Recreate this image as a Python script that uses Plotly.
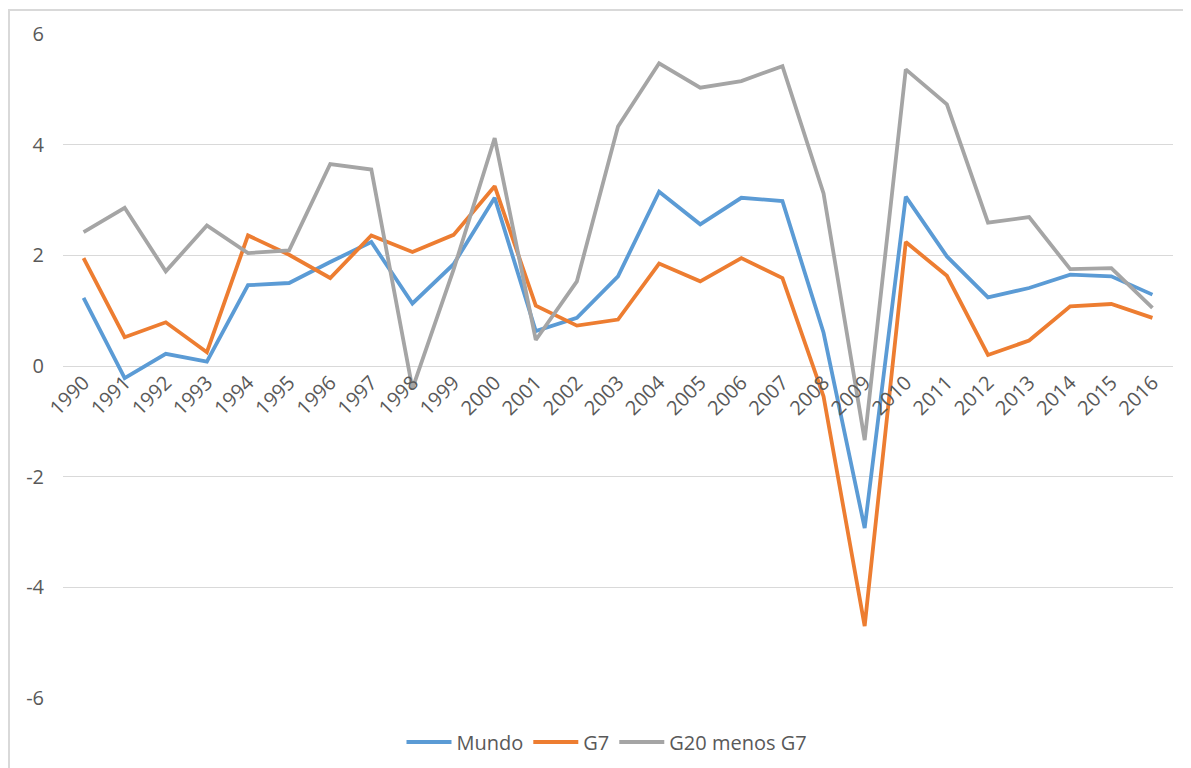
import plotly.graph_objects as go

years = [str(y) for y in range(1990, 2017)]
mundo = [1.23, -0.22, 0.22, 0.08, 1.46, 1.50, 1.88, 2.24, 1.13, 1.84, 3.04, 0.63, 0.87, 1.62,
         3.15, 2.56, 3.04, 2.98, 0.60, -2.93, 3.06, 1.98, 1.24, 1.41, 1.65, 1.62, 1.29]
g7 = [1.95, 0.52, 0.79, 0.25, 2.36, 2.01, 1.59, 2.36, 2.06, 2.37, 3.25, 1.09, 0.73, 0.84,
      1.85, 1.53, 1.95, 1.59, -0.55, -4.70, 2.24, 1.63, 0.20, 0.46, 1.08, 1.12, 0.87]
g20_menos_g7 = [2.42, 2.86, 1.71, 2.54, 2.04, 2.09, 3.65, 3.55, -0.41, 1.74, 4.12, 0.47, 1.53, 4.33,
                5.47, 5.03, 5.15, 5.42, 3.12, -1.34, 5.36, 4.73, 2.59, 2.69, 1.75, 1.77, 1.05]
series_names = ["Mundo", "G7", "G20 menos G7"]
colors = ["#5B9BD5", "#ED7D31", "#A5A5A5"]
yticks = [-6, -4, -2, 0, 2, 4, 6]
ytick_labels = [str(v) for v in yticks]

idx = list(range(len(years)))
fig = go.Figure()
for name, vals, col in zip(series_names, [mundo, g7, g20_menos_g7], colors):
    fig.add_trace(go.Scatter(x=idx, y=vals, mode="lines", name=name,
                             line=dict(color=col, width=3.8)))

# page has an 8px body margin; figure coordinates = page coordinates - 8
OFF = 8
W, H = 1191 - OFF, 768 - OFF
L, R, T, B = 63 - OFF, 18, 34 - OFF, 70
pw, ph = W - L - R, H - T - B

def px_x(page_x):
    return (page_x - OFF - L) / pw

def px_y(page_y):
    return (H - B - (page_y - OFF)) / ph

font = dict(family="Open Sans, sans-serif", size=20, color="#595959")
fig.update_layout(
    width=W, height=H,
    margin=dict(l=L, r=R, t=T, b=B, pad=0, autoexpand=False),
    paper_bgcolor="white", plot_bgcolor="white",
    font=font,
    showlegend=True,
    legend=dict(orientation="h", x=px_x(607), xanchor="center", y=px_y(742), yanchor="middle",
                font=font, bgcolor="rgba(0,0,0,0)", traceorder="normal",
                itemwidth=45),
    xaxis=dict(range=[-0.5, 26.5], tickmode="array", tickvals=idx, ticktext=years,
               tickangle=-45, showgrid=False, zeroline=False, showline=False,
               anchor="free", position=0.5, ticks="", tickfont=font, automargin=False),
    yaxis=dict(range=[-6, 6], tickmode="array", tickvals=yticks, ticktext=ytick_labels,
               showgrid=True, gridcolor="#D9D9D9", gridwidth=1, zeroline=True,
               zerolinecolor="#D9D9D9", zerolinewidth=1, showline=False, ticks="",
               ticklabelstandoff=18, tickfont=font, automargin=False),
    shapes=[
        dict(type="line", xref="paper", yref="paper", x0=px_x(9), x1=px_x(9),
             y0=px_y(10), y1=px_y(780), line=dict(color="#D9D9D9", width=2)),
        dict(type="line", xref="paper", yref="paper", x0=px_x(8), x1=px_x(1200),
             y0=px_y(10), y1=px_y(10), line=dict(color="#D9D9D9", width=2)),
    ],
)
fig.write_html("out.html")
